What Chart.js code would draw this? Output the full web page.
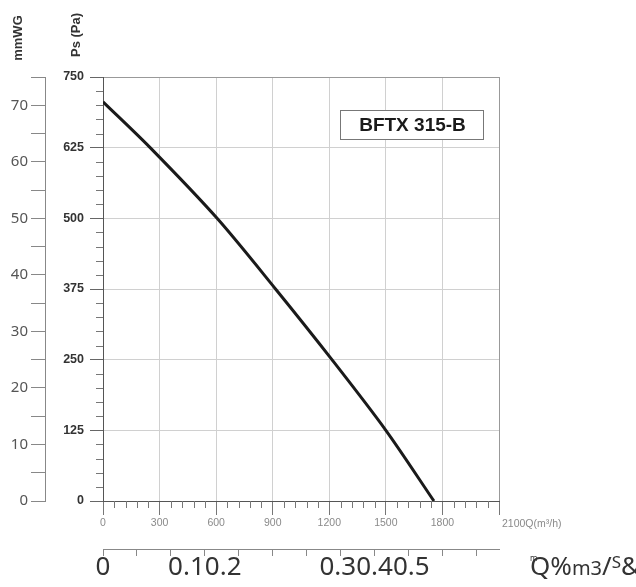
<!DOCTYPE html>
<html>
<head>
<meta charset="utf-8">
<script src="https://cdn.jsdelivr.net/npm/chart.js@4/dist/chart.umd.min.js"></script>
<style>
  body { margin: 0; background: #fff; }
  #chart { display: block; }
</style>
</head>
<body>
<canvas id="chart" width="636" height="587"></canvas>
<script>
// fan curve
const flowM3h = [0, 250, 605, 915, 1214, 1500, 1755];
const staticPa = [706, 625, 500, 375, 250, 125, 0];

// axis labels
const flowTicks = [0, 300, 600, 900, 1200, 1500, 1800];
const paTicks = [0, 125, 250, 375, 500, 625, 750];
const mmwgTicks = [0, 10, 20, 30, 40, 50, 60, 70];
// second flow axis (m3/s), one entry per 0.05 tick, as printed on the scan
const m3sLabels = ['0', '', '', '0.10.2', '', '', '', '', '0.30.40.5', '', '', ''];

const modelName = 'BFTX 315-B';

const chartElm = document.getElementById('chart');

const extras = {
  id: 'extras',
  afterDraw(chart) {
    const ctx = chart.ctx;
    const x = chart.scales.x, y = chart.scales.y;
    ctx.save();

    // minor ticks
    ctx.strokeStyle = '#777';
    ctx.lineWidth = 1;
    ctx.beginPath();
    x.ticks.forEach(t => {
      if (t.value % 300 !== 0) {
        const px = Math.round(x.getPixelForValue(t.value)) + 0.5;
        ctx.moveTo(px, x.top);
        ctx.lineTo(px, x.top + 7);
      }
    });
    y.ticks.forEach(t => {
      if (t.value % 125 !== 0) {
        const py = Math.round(y.getPixelForValue(t.value)) + 0.5;
        ctx.moveTo(y.right - 7, py);
        ctx.lineTo(y.right, py);
      }
    });
    ctx.stroke();

    // flow unit after the last tick
    ctx.fillStyle = '#8a8a8a';
    ctx.font = '10.5px "Liberation Sans", Arial, sans-serif';
    ctx.textAlign = 'left';
    ctx.textBaseline = 'alphabetic';
    ctx.fillText('2100Q(m³/h)', x.getPixelForValue(2100) + 3, 527);

    // garbled m3/s unit
    let cx = 530;
    const base = 575;
    const parts = [
      ['Q%', 26, 0], ['m3', 20, 0], ['/', 26, 0], ['S', 17, -7], ['&', 26, 0]
    ];
    ctx.fillStyle = '#333';
    parts.forEach(p => {
      ctx.font = p[1] + 'px "Noto Sans", sans-serif';
      ctx.fillText(p[0], cx, base + p[2]);
      cx += ctx.measureText(p[0]).width;
    });
    ctx.font = '8px "Noto Sans", sans-serif';
    ctx.fillText('m', 530, 561);

    // axis titles at the top
    ctx.fillStyle = '#333';
    ctx.font = 'bold 13px "Liberation Sans", Arial, sans-serif';
    ctx.textAlign = 'center';
    ctx.textBaseline = 'middle';
    ctx.save();
    ctx.translate(18, 38);
    ctx.rotate(-Math.PI / 2);
    ctx.fillText('mmWG', 0, 0);
    ctx.restore();
    ctx.save();
    ctx.translate(76, 35);
    ctx.rotate(-Math.PI / 2);
    ctx.fillText('Ps (Pa)', 0, 0);
    ctx.restore();

    // model box
    const bx = 340, by = 110, bw = 143, bh = 29;
    ctx.fillStyle = '#fff';
    ctx.fillRect(bx, by, bw, bh);
    ctx.strokeStyle = '#777';
    ctx.strokeRect(bx + 0.5, by + 0.5, bw, bh);
    ctx.fillStyle = '#1a1a1a';
    ctx.font = 'bold 19px "Liberation Sans", Arial, sans-serif';
    ctx.fillText(modelName, bx + bw / 2 + 1, by + bh / 2 + 1);

    ctx.restore();
  }
};

new Chart(chartElm, {
  type: 'line',
  data: {
    datasets: [{
      label: modelName,
      data: flowM3h.map((q, i) => ({ x: q, y: staticPa[i] })),
      borderColor: '#1a1a1a',
      borderWidth: 3,
      pointRadius: 0,
      tension: 0.3,
      xAxisID: 'x',
      yAxisID: 'y'
    }]
  },
  options: {
    responsive: false,
    animation: false,
    layout: { padding: { top: 77, right: 137, left: 0, bottom: 0 } },
    plugins: { legend: { display: false }, tooltip: { enabled: false } },
    scales: {
      x: {
        type: 'linear',
        position: 'bottom',
        weight: 0,
        min: 0,
        max: 2100,
        afterFit: s => { s.height = 48; },
        border: { color: '#555', width: 1 },
        grid: {
          color: c => c.tick.value === 2100 ? '#999' : (c.tick.value % 300 === 0 ? '#d0d0d0' : 'transparent'),
          tickColor: c => c.tick.value % 300 === 0 ? '#777' : 'transparent',
          tickLength: 14
        },
        ticks: {
          stepSize: 60,
          autoSkip: false,
          maxRotation: 0,
          padding: 2,
          color: '#8a8a8a',
          font: { size: 10.5, family: '"Liberation Sans", Arial, sans-serif' },
          callback: v => flowTicks.includes(v) ? String(v) : ''
        }
      },
      x2: {
        type: 'linear',
        position: 'bottom',
        weight: 1,
        min: 0,
        max: 2100 / 3600,
        afterFit: s => { s.height = 38; },
        border: { color: '#888', width: 1 },
        grid: { drawOnChartArea: false, tickLength: 7, tickColor: '#888' },
        ticks: {
          stepSize: 0.05,
          includeBounds: false,
          autoSkip: false,
          maxRotation: 0,
          minRotation: 0,
          padding: -4,
          color: '#333',
          font: { size: 26, family: '"Noto Sans", sans-serif' },
          callback: (v, i) => m3sLabels[i] || ''
        }
      },
      y: {
        type: 'linear',
        position: 'left',
        weight: 0,
        min: 0,
        max: 750,
        afterFit: s => { s.width = 58; },
        border: { color: '#555', width: 1 },
        grid: {
          color: c => c.tick.value === 750 ? '#999' : (c.tick.value % 125 === 0 ? '#d0d0d0' : 'transparent'),
          tickColor: c => c.tick.value % 125 === 0 ? '#666' : 'transparent',
          tickLength: 13
        },
        ticks: {
          stepSize: 25,
          autoSkip: false,
          padding: 6,
          color: '#333',
          font: { size: 12.5, weight: 'bold', family: '"Liberation Sans", Arial, sans-serif' },
          callback: v => paTicks.includes(v) ? String(v) : ''
        }
      },
      y2: {
        type: 'linear',
        position: 'left',
        weight: 1,
        min: 0,
        max: 75,
        afterFit: s => { s.width = 45; },
        border: { color: '#888', width: 1 },
        grid: { drawOnChartArea: false, tickLength: 14, tickColor: '#888' },
        ticks: {
          stepSize: 5,
          autoSkip: false,
          padding: 3,
          color: '#555',
          font: { size: 15, family: '"Noto Sans", sans-serif' },
          callback: v => mmwgTicks.includes(v) ? String(v) : ''
        }
      }
    }
  },
  plugins: [extras]
});
</script>
</body>
</html>
